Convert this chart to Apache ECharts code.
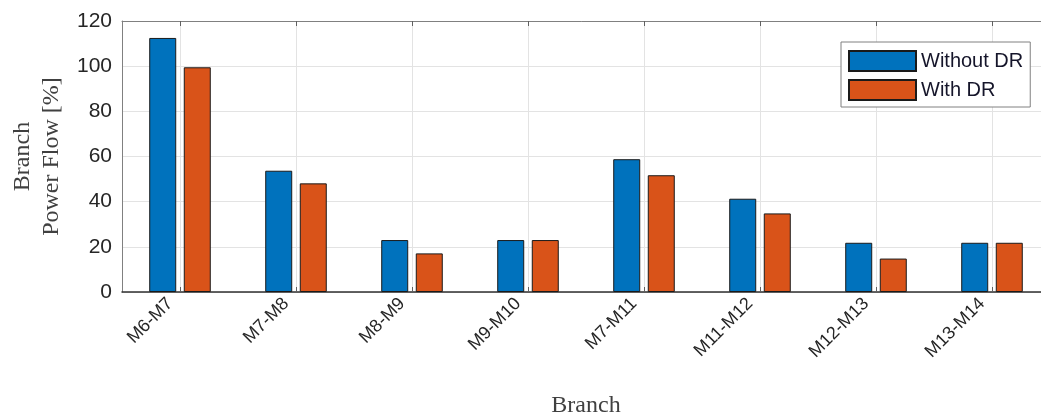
<!DOCTYPE html>
<html>
<head>
<meta charset="utf-8">
<script src="https://cdn.jsdelivr.net/npm/echarts@6/dist/echarts.min.js"></script>
<style>
html,body{margin:0;padding:0;background:#fff;}
#chart{width:1041px;height:417px;}
</style>
</head>
<body>
<div id="chart"></div>
<script>
const categories = ['M6-M7','M7-M8','M8-M9','M9-M10','M7-M11','M11-M12','M12-M13','M13-M14'];
const withoutDR = [112.5, 53.7, 23.0, 23.0, 58.8, 41.3, 21.8, 21.8];
const withDR = [99.5, 48.1, 17.1, 23.0, 51.7, 34.8, 14.8, 21.8];
const yTicks = [0, 20, 40, 60, 80, 100, 120];

const chart = echarts.init(document.getElementById('chart'));
const sans = 'Liberation Sans, Arial, sans-serif';
const serif = 'Liberation Serif, Times New Roman, serif';
chart.setOption({
  animation: false,
  backgroundColor: '#ffffff',
  grid: {left: 122, top: 21, width: 928, height: 271, containLabel: false, outerBoundsMode: 'none'},
  legend: {
    orient: 'vertical', left: 841, top: 42,
    padding: [8, 7, 6, 7], itemGap: 7,
    itemWidth: 67, itemHeight: 20, itemTextGap: 3,
    icon: 'rect',
    borderColor: '#808080', borderWidth: 1, backgroundColor: '#fff',
    textStyle: {fontFamily: sans, fontSize: 20, color: '#15152a'},
    data: ['Without DR', 'With DR']
  },
  xAxis: [{
    type: 'category', data: categories, position: 'bottom',
    axisLine: {show: true, lineStyle: {color: '#303030', width: 1.5}},
    axisTick: {show: true, inside: true, alignWithLabel: true, length: 5, lineStyle: {color: '#606060'}},
    splitLine: {show: true, alignWithLabel: true, lineStyle: {color: '#e3e3e3', width: 1}},
    axisLabel: {rotate: 45, fontFamily: sans, fontSize: 18, color: '#262626', margin: -1, padding: [0, 14, 0, 0]},
    name: 'Branch', nameLocation: 'middle', nameGap: 102,
    nameTextStyle: {fontFamily: serif, fontSize: 24, color: '#404040'}
  }, {
    type: 'category', data: categories, position: 'top',
    axisLine: {show: true, lineStyle: {color: '#808080', width: 1}},
    axisTick: {show: true, inside: true, alignWithLabel: true, length: 5, lineStyle: {color: '#606060'}},
    axisLabel: {show: false},
    splitLine: {show: false}
  }],
  yAxis: {
    type: 'value', min: 0, max: 120, interval: 20,
    axisLine: {show: true, lineStyle: {color: '#808080'}},
    axisTick: {show: false},
    splitLine: {show: true, lineStyle: {color: '#e3e3e3', width: 1}},
    axisLabel: {fontFamily: sans, fontSize: 21, color: '#262626', margin: 10,
      formatter: v => yTicks.includes(v) ? String(v) : ''},
    name: 'Branch\nPower Flow [%]', nameLocation: 'middle', nameGap: 53,
    nameTextStyle: {fontFamily: serif, fontSize: 24, lineHeight: 29, color: '#404040'}
  },
  series: [{
    name: 'Without DR', type: 'bar', data: withoutDR,
    barWidth: 27, barGap: '28%',
    itemStyle: {color: '#0072BD', borderColor: '#1a1a1a', borderWidth: 1}
  }, {
    name: 'With DR', type: 'bar', data: withDR,
    barWidth: 27, barGap: '28%',
    itemStyle: {color: '#D95319', borderColor: '#1a1a1a', borderWidth: 1}
  }]
});
</script>
</body>
</html>
